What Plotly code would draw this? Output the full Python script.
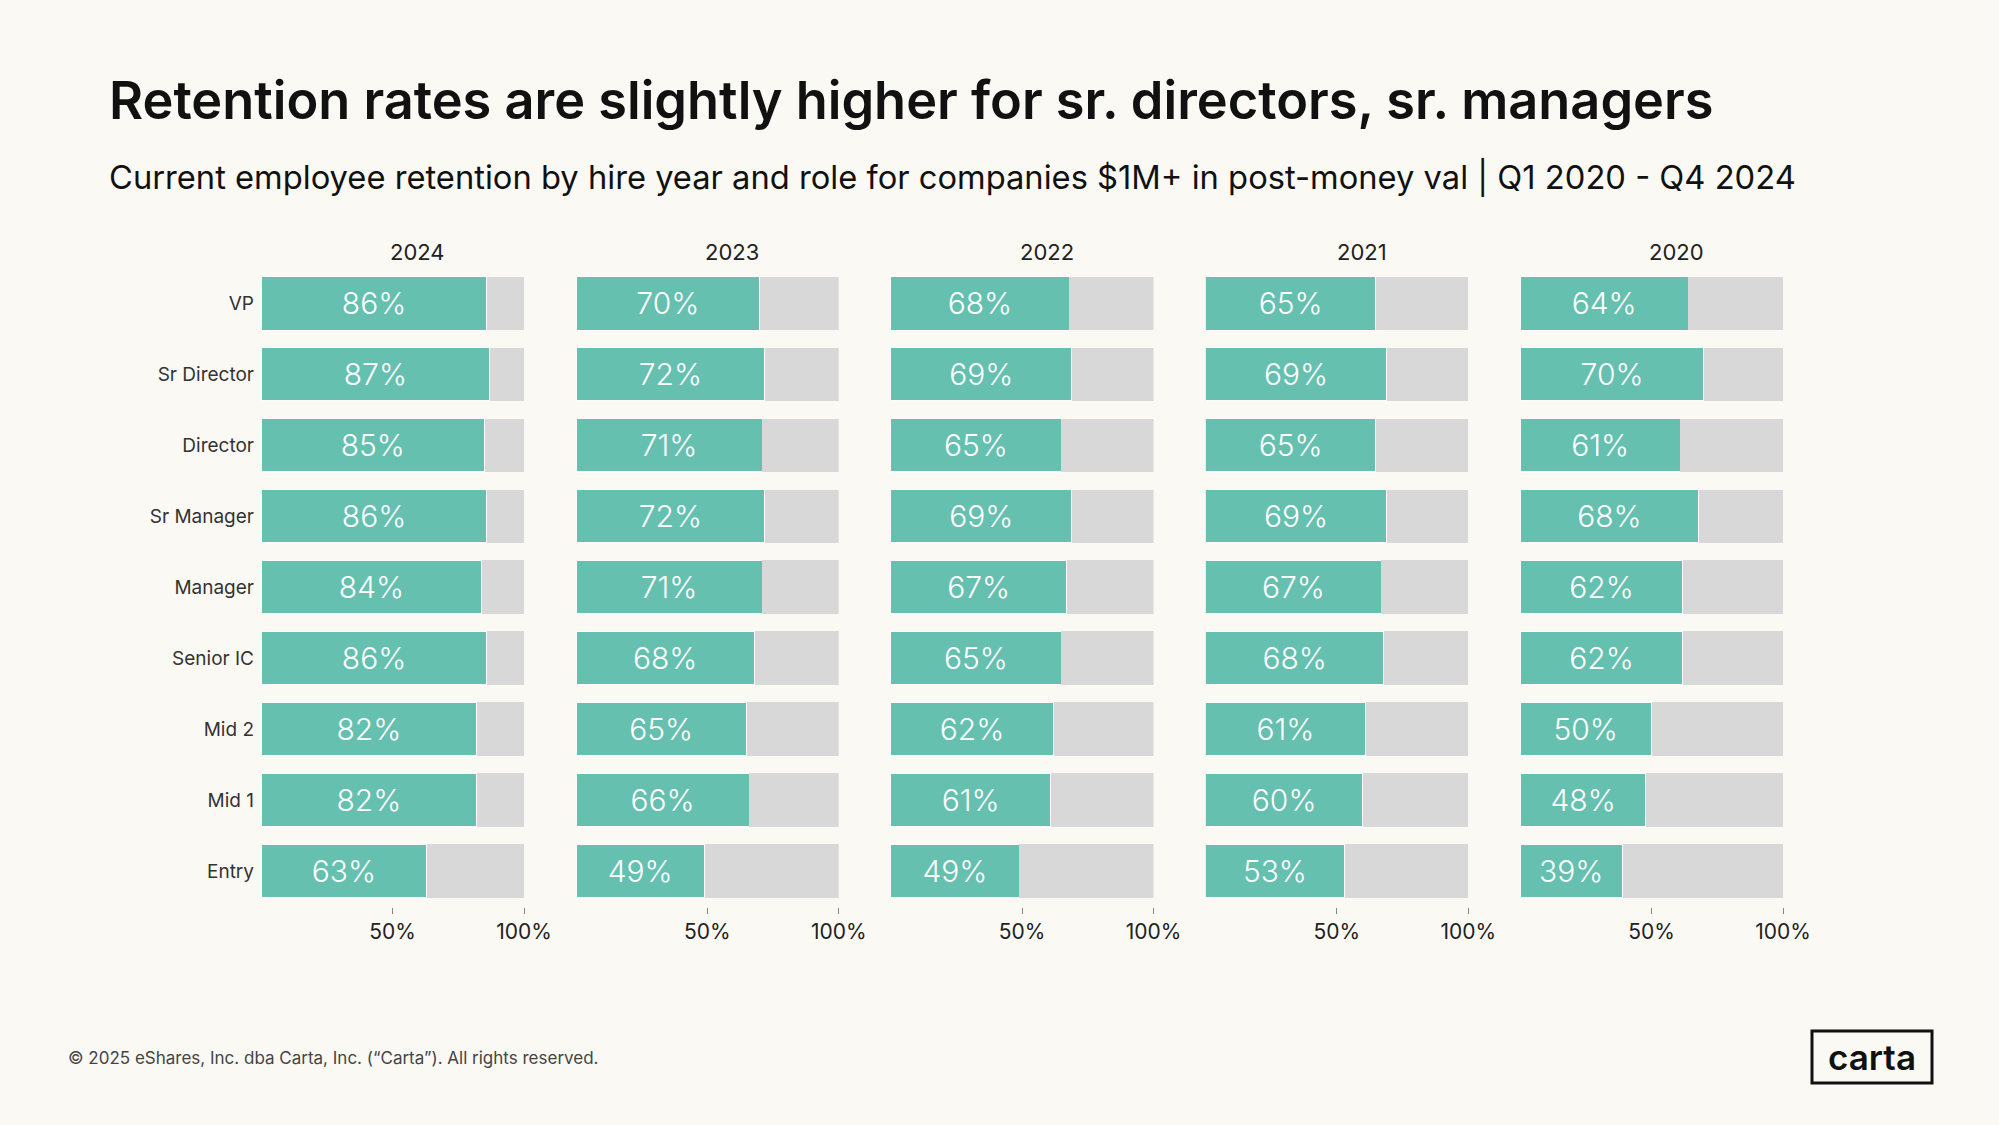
import plotly.graph_objects as go

roles = ["VP", "Sr Director", "Director", "Sr Manager", "Manager",
         "Senior IC", "Mid 2", "Mid 1", "Entry"]
years = ["2024", "2023", "2022", "2021", "2020"]

ret_2024 = [86, 87, 85, 86, 84, 86, 82, 82, 63]
ret_2023 = [70, 72, 71, 72, 71, 68, 65, 66, 49]
ret_2022 = [68, 69, 65, 69, 67, 65, 62, 61, 49]
ret_2021 = [65, 69, 65, 69, 67, 68, 61, 60, 53]
ret_2020 = [64, 70, 61, 68, 62, 62, 50, 48, 39]
retention = [ret_2024, ret_2023, ret_2022, ret_2021, ret_2020]

tick_vals = [50, 100]
tick_text = ["50%", "100%"]

TEAL = "#65c0af"
GREY = "#d8d8d8"
BG = "#fbf9f4"
FONT = "Inter"

W, H = 1999, 1125
left0, pw, step = 261, 263, 314.75
y_top, y_bot = 268, 906.5

fig = go.Figure()
layout = {}
annotations = []

for i, (yr, vals) in enumerate(zip(years, retention)):
    n = "" if i == 0 else str(i + 1)
    x0 = (left0 + i * step) / W
    x1 = (left0 + i * step + pw) / W
    fig.add_trace(go.Bar(
        x=vals, y=roles, orientation="h", xaxis="x" + n, yaxis="y" + n,
        marker=dict(color=TEAL, line=dict(color="#fdfcf8", width=1.5)),
        text=[f"{v}%" for v in vals], textposition="inside",
        insidetextanchor="middle",
        textfont=dict(color="white", size=30, family=FONT, weight=300),
        hoverinfo="skip", showlegend=False))
    fig.add_trace(go.Bar(
        x=[100 - v for v in vals], y=roles, orientation="h",
        xaxis="x" + n, yaxis="y" + n,
        marker=dict(color=GREY, line=dict(width=0)),
        hoverinfo="skip", showlegend=False))
    layout["xaxis" + n] = dict(
        domain=[x0, x1], range=[0, 100], anchor="y" + n, automargin=False,
        tickvals=tick_vals, ticktext=tick_text, ticks="outside",
        ticklen=6, tickcolor="#888", tickwidth=1,
        showgrid=False, zeroline=False, showline=False,
        tickfont=dict(size=21, color="#222", family=FONT), fixedrange=True)
    layout["yaxis" + n] = dict(
        domain=[1 - y_bot / H, 1 - y_top / H], anchor="x" + n,
        automargin=False, autorange="reversed", showgrid=False,
        zeroline=False, showticklabels=(i == 0), ticks="",
        ticklabelstandoff=6,
        tickfont=dict(size=19, color="#333", family=FONT), fixedrange=True)
    annotations.append(dict(
        text=yr, x=(x0 + x1) / 2 + 25 / W, y=1 - 252 / H,
        xref="paper", yref="paper",
        showarrow=False, xanchor="center", yanchor="middle",
        font=dict(size=22, color="#222", family=FONT)))

annotations += [
    dict(text="Retention rates are slightly higher for sr. directors, sr. managers",
         x=107 / W, y=1 - 100 / H, xref="paper", yref="paper", showarrow=False,
         xanchor="left", yanchor="middle",
         font=dict(size=52.3, color="#111", family=FONT, weight=600)),
    dict(text="Current employee retention by hire year and role for companies $1M+ in post-money val | Q1 2020 - Q4 2024",
         x=107 / W, y=1 - 177 / H, xref="paper", yref="paper", showarrow=False,
         xanchor="left", yanchor="middle",
         font=dict(size=32.7, color="#111", family=FONT)),
    dict(text="© 2025 eShares, Inc. dba Carta, Inc. (“Carta”). All rights reserved.",
         x=66 / W, y=1 - 1058 / H, xref="paper", yref="paper", showarrow=False,
         xanchor="left", yanchor="middle",
         font=dict(size=17, color="#444", family=FONT)),
    dict(text="carta", x=1872 / W, y=1 - 1057 / H, xref="paper", yref="paper",
         showarrow=False, xanchor="center", yanchor="middle",
         font=dict(size=35, color="#111", family=FONT, weight=600)),
]

fig.update_layout(
    **layout,
    barmode="stack", bargap=0.245,
    width=W, height=H,
    margin=dict(l=0, r=0, t=0, b=0, autoexpand=False),
    paper_bgcolor=BG, plot_bgcolor=BG,
    annotations=annotations,
    shapes=[dict(type="rect", xref="paper", yref="paper",
                 x0=1812 / W, x1=1932 / W, y0=1 - 1083 / H, y1=1 - 1031 / H,
                 line=dict(color="#111", width=3))],
)

# drop the default page margin so the figure fills the window exactly
fig.write_html("out.html", config={"displayModeBar": False},
               post_script="document.body.style.margin='0';")
